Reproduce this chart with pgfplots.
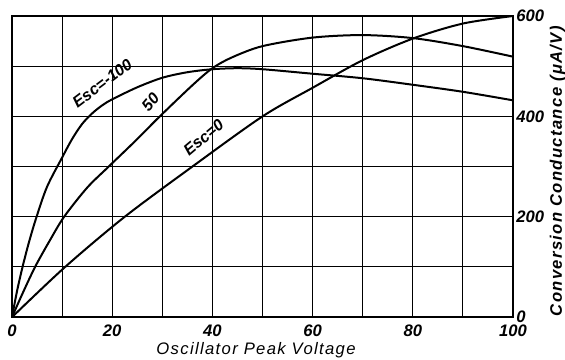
\documentclass[border=0pt]{standalone}
\usepackage{pgfplots}
\pgfplotsset{compat=1.18}
\usepackage{fontspec}
\setmainfont{Liberation Sans}
\newfontfamily\lblfont{Liberation Sans}[LetterSpace=8]

\begin{document}
\begin{tikzpicture}
  \begin{axis}[
    scale only axis,
    width=376pt, height=226pt,
    xmin=0, xmax=100, ymin=0, ymax=600,
    xtick={0,20,...,100}, minor xtick={10,30,...,90},
    ytick={0,200,400,600}, minor ytick={100,300,500},
    grid=both,
    major grid style={black, line width=0.8pt},
    minor grid style={black, line width=0.8pt},
    axis line style={line width=1.4pt},
    tick style={draw=none},
    yticklabel pos=right,
    ticklabel style={font=\fontsize{12.5}{14}\selectfont\bfseries\itshape},
    yticklabel style={xshift=-1pt},
    xticklabel style={yshift=-2pt},
    /pgf/number format/assume math mode=true,
    xlabel={Oscillator Peak Voltage},
    ylabel={Conversion Conductance (μA/V)},
    every axis x label/.style={at={(rel axis cs:0.487,-0.11)}, anchor=center,
      font=\lblfont\fontsize{12.5}{13}\selectfont\itshape},
    every axis y label/.style={at={(rel axis cs:1.089,0.485)}, rotate=90, anchor=center,
      font=\lblfont\fontsize{12.5}{13}\selectfont\bfseries\itshape},
  ]
    % Esc = -100
    \addplot[black, line width=1.5pt, smooth] coordinates {
      (0,0) (1,52) (2.1,100) (3.4,150) (4.9,200) (7,260) (10,318) (12,355)
      (14,385) (16,406) (18,422) (20,434) (25,458) (30,477) (35,488)
      (40,494) (45,496) (50,494) (60,485) (70,476) (80,463) (90,449) (100,432)};
    % Esc = -50
    \addplot[black, line width=1.5pt, smooth] coordinates {
      (0,0) (2,45) (4.6,100) (7.5,152) (10.4,200) (15,258) (19.3,300)
      (24.5,350) (29.5,400) (36,462) (40,496) (44,518) (50,540)
      (60,557) (70,562) (80,556) (90,540) (100,519)};
    % Esc = 0
    \addplot[black, line width=1.5pt, smooth] coordinates {
      (0,0) (10.6,100) (22.5,200) (36,300) (50,400) (60,457)
      (70,512) (80,555) (90,585) (100,600)};

    \node[rotate=37, font=\fontsize{12}{13}\selectfont\bfseries\itshape]
      at (axis cs:18,466) {Esc=-100};
    \node[rotate=50, font=\fontsize{12}{13}\selectfont\bfseries\itshape]
      at (axis cs:27.6,428) {50};
    \node[rotate=40, font=\fontsize{12}{13}\selectfont\bfseries\itshape]
      at (axis cs:38.2,358) {Esc=0};

    \coordinate (bbl) at (rel axis cs:-0.024,-0.1395);
    \coordinate (btr) at (rel axis cs:1.1038,1.0532);
  \end{axis}
  \pgfresetboundingbox
  \path[use as bounding box] (bbl) rectangle (btr);
\end{tikzpicture}
\end{document}
